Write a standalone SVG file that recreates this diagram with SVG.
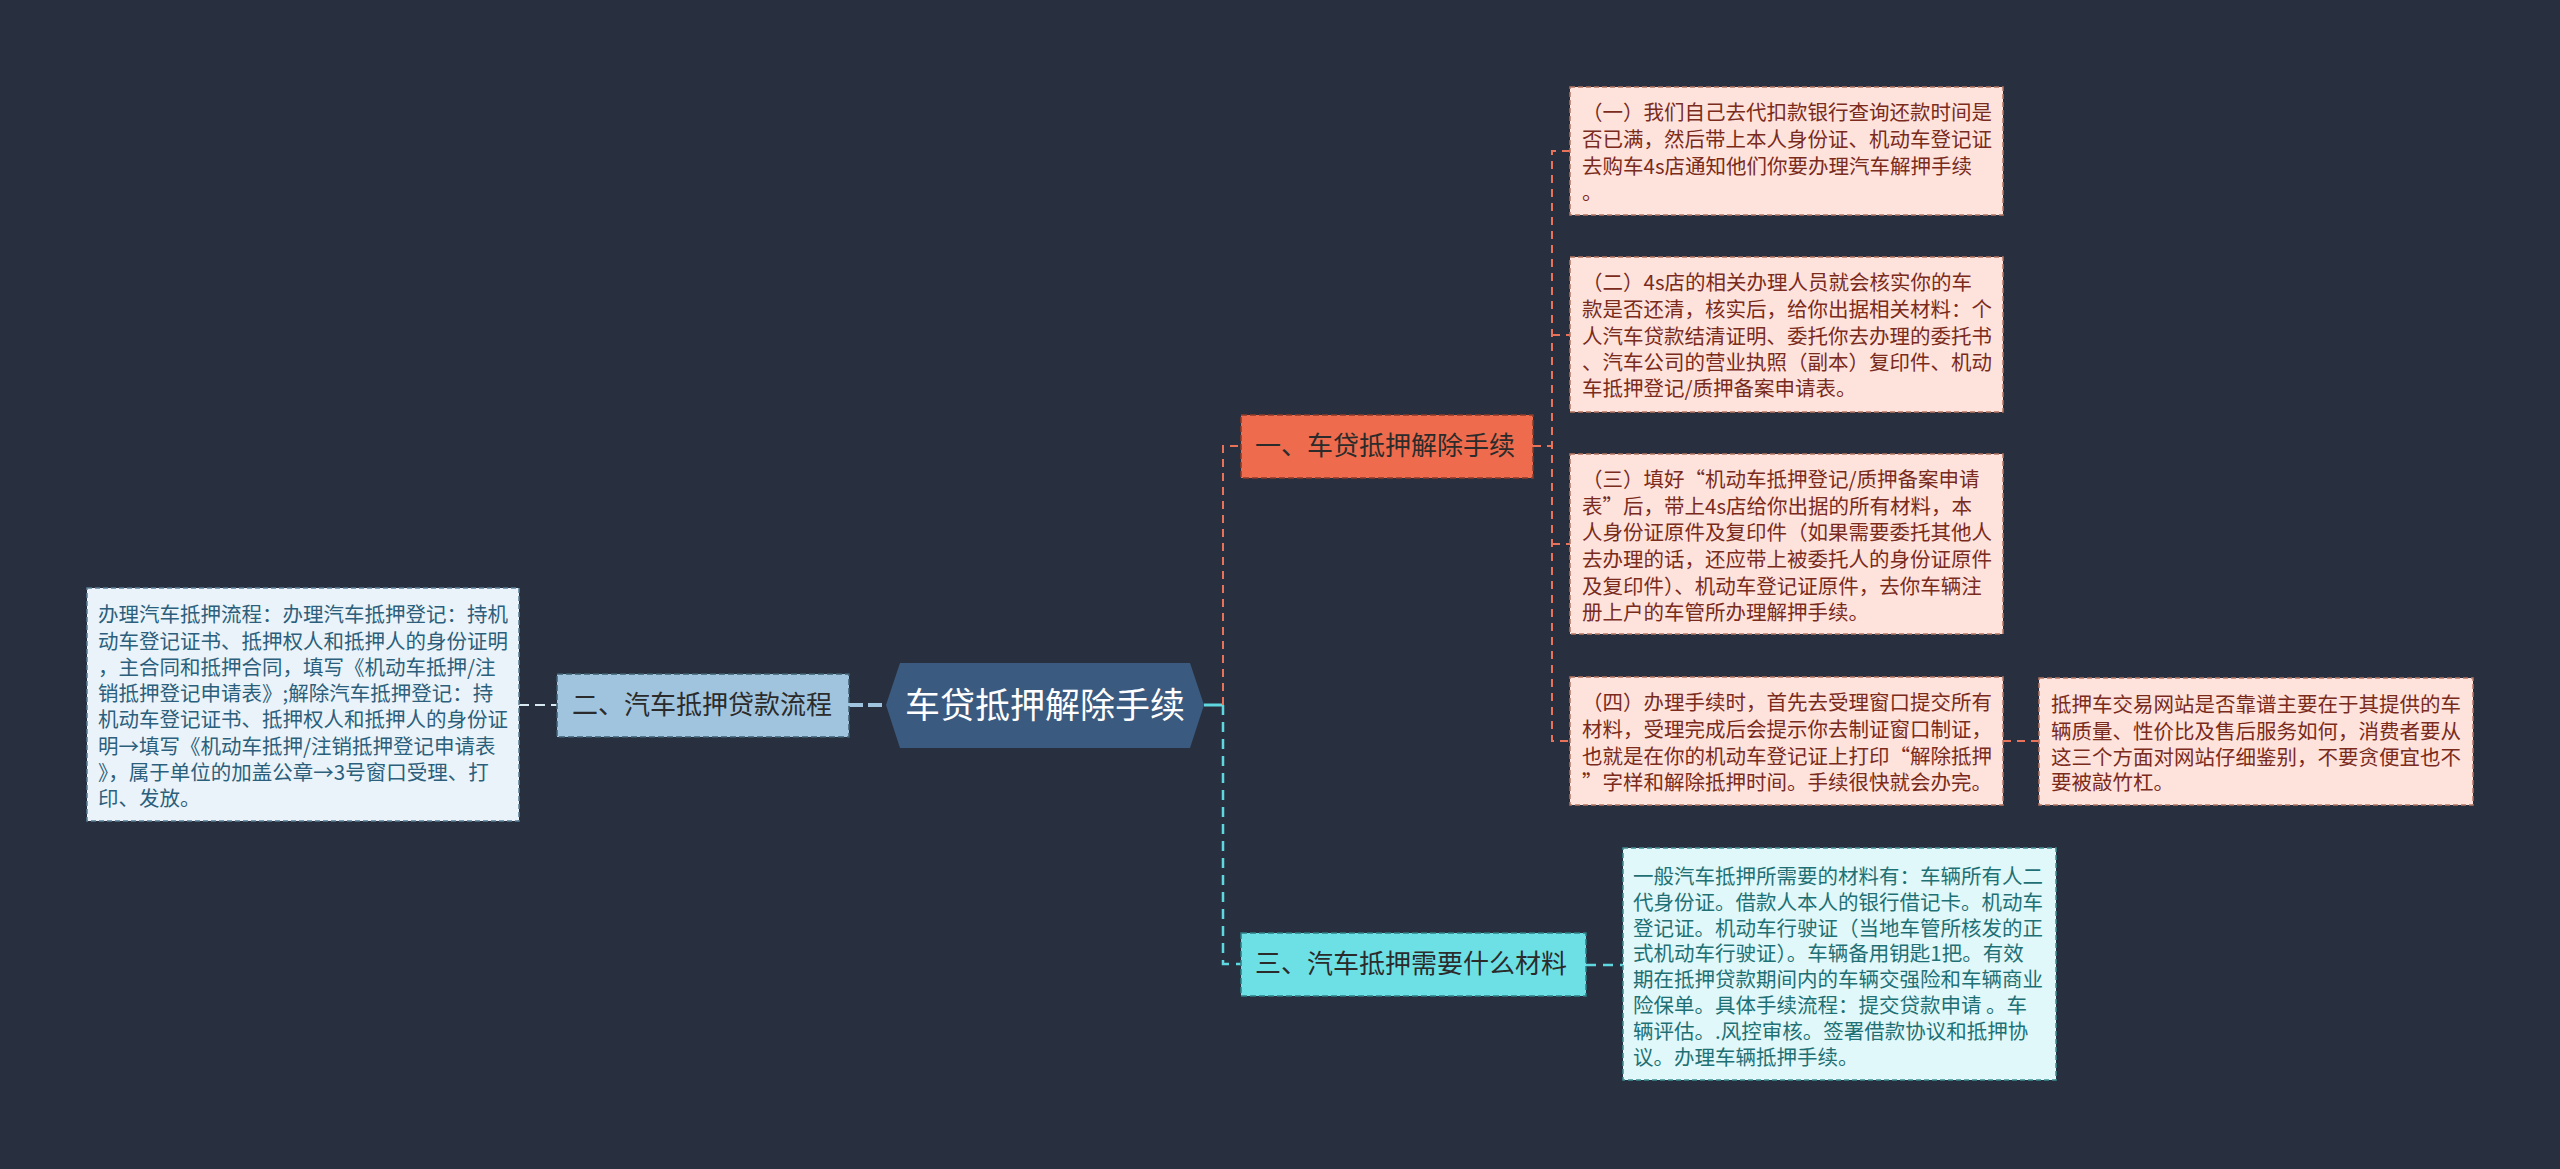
<svg xmlns="http://www.w3.org/2000/svg" width="2560" height="1169" viewBox="0 0 2560 1169">
<style>
text{font-family:"Noto Sans CJK SC","Microsoft YaHei",sans-serif;}
.pk rect{fill:#fde3dc;stroke:#b7735f;stroke-width:1.5;stroke-dasharray:5 3;}
.pk text{fill:#7a2b1c;font-size:20.5px;}
.cy rect{fill:#e0f8f9;stroke:#3c8e92;stroke-width:1.5;stroke-dasharray:5 3;}
.cy text{fill:#1f7075;font-size:20.5px;}
.lb rect{fill:#eaf3f9;stroke:#5a7f96;stroke-width:1.5;stroke-dasharray:5 3;}
.lb text{fill:#2c5f7c;font-size:20.5px;}
.t2 text{fill:#2b2b2b;font-size:26px;}
.t2 rect{stroke-width:1.5;stroke-dasharray:6 3;}
.or{fill:none;stroke:#e8735a;stroke-width:2;stroke-dasharray:8 6;}
.cyl{fill:none;stroke:#5fd7df;stroke-width:2.5;stroke-dasharray:10 7;}
.wl{fill:none;stroke:#d9e9f2;stroke-width:2;stroke-dasharray:10 6;}
</style>
<rect width="2560" height="1169" fill="#28303f"/>
<g id="connectors">
<line x1="849" y1="705" x2="886" y2="705" stroke="#a0c4de" stroke-width="4" stroke-dasharray="14 5"/>
<line x1="519" y1="705" x2="557" y2="705" class="wl"/>
<line x1="1204" y1="705" x2="1223" y2="705" stroke="#5fd7df" stroke-width="3"/>
<path class="or" d="M1223 705 V446 H1241"/>
<path class="cyl" d="M1223 705 V964 H1241"/>
<path class="or" d="M1533 446 H1552"/>
<path class="or" d="M1570 151 H1552 V741 H1570 M1552 335 H1570 M1552 544 H1570"/>
<path class="or" d="M2003 741 H2039"/>
<path class="cyl" d="M1586 965 H1623"/>
</g>
<g id="root">
<polygon points="900,663 1190,663 1204,705 1190,748 900,748 886,705" fill="#3b5a7f"/>
<text x="1045" y="718" text-anchor="middle" fill="#ffffff" font-size="35">车贷抵押解除手续</text>
</g>
<g id="n1" class="t2">
<rect x="1241" y="415" width="292" height="63" fill="#ee6b4d" stroke="#8a3a28"/>
<text x="1255" y="455">一、车贷抵押解除手续</text>
</g>
<g id="n2" class="t2">
<rect x="557" y="674" width="292" height="63" fill="#a0c4de" stroke="#3d5d72"/>
<text x="572" y="714">二、汽车抵押贷款流程</text>
</g>
<g id="n3" class="t2">
<rect x="1241" y="933" width="345" height="63" fill="#6de0e6" stroke="#2c7e84"/>
<text x="1255" y="973">三、汽车抵押需要什么材料</text>
</g>
<g id="d1" class="pk">
<rect x="1570" y="87" width="433" height="128"/>
<text x="1582" y="120">（一）我们自己去代扣款银行查询还款时间是</text>
<text x="1582" y="147">否已满，然后带上本人身份证、机动车登记证</text>
<text x="1582" y="174">去购车4s店通知他们你要办理汽车解押手续</text>
<text x="1582" y="200">。</text>
</g>
<g id="d2" class="pk">
<rect x="1570" y="257" width="433" height="155"/>
<text x="1582" y="290">（二）4s店的相关办理人员就会核实你的车</text>
<text x="1582" y="317">款是否还清，核实后，给你出据相关材料：个</text>
<text x="1582" y="344">人汽车贷款结清证明、委托你去办理的委托书</text>
<text x="1582" y="370">、汽车公司的营业执照（副本）复印件、机动</text>
<text x="1582" y="396">车抵押登记/质押备案申请表。</text>
</g>
<g id="d3" class="pk">
<rect x="1570" y="454" width="433" height="180"/>
<text x="1582" y="487">（三）填好“机动车抵押登记/质押备案申请</text>
<text x="1582" y="514">表”后，带上4s店给你出据的所有材料，本</text>
<text x="1582" y="540">人身份证原件及复印件（如果需要委托其他人</text>
<text x="1582" y="567">去办理的话，还应带上被委托人的身份证原件</text>
<text x="1582" y="594">及复印件）、机动车登记证原件，去你车辆注</text>
<text x="1582" y="620">册上户的车管所办理解押手续。</text>
</g>
<g id="d4" class="pk">
<rect x="1570" y="677" width="433" height="128"/>
<text x="1582" y="710">（四）办理手续时，首先去受理窗口提交所有</text>
<text x="1582" y="737">材料，受理完成后会提示你去制证窗口制证，</text>
<text x="1582" y="764">也就是在你的机动车登记证上打印“解除抵押</text>
<text x="1582" y="790">”字样和解除抵押时间。手续很快就会办完。</text>
</g>
<g id="d5" class="pk">
<rect x="2039" y="678" width="434" height="127"/>
<text x="2051" y="712">抵押车交易网站是否靠谱主要在于其提供的车</text>
<text x="2051" y="739">辆质量、性价比及售后服务如何，消费者要从</text>
<text x="2051" y="765">这三个方面对网站仔细鉴别，不要贪便宜也不</text>
<text x="2051" y="790">要被敲竹杠。</text>
</g>
<g id="d6" class="cy">
<rect x="1623" y="848" width="433" height="232"/>
<text x="1633" y="884">一般汽车抵押所需要的材料有：车辆所有人二</text>
<text x="1633" y="910">代身份证。借款人本人的银行借记卡。机动车</text>
<text x="1633" y="936">登记证。机动车行驶证（当地车管所核发的正</text>
<text x="1633" y="961">式机动车行驶证）。车辆备用钥匙1把。有效</text>
<text x="1633" y="987">期在抵押贷款期间内的车辆交强险和车辆商业</text>
<text x="1633" y="1013">险保单。具体手续流程：提交贷款申请 。车</text>
<text x="1633" y="1039">辆评估。.风控审核。签署借款协议和抵押协</text>
<text x="1633" y="1065">议。办理车辆抵押手续。</text>
</g>
<g id="d7" class="lb">
<rect x="87" y="588" width="432" height="233"/>
<text x="98" y="622">办理汽车抵押流程：办理汽车抵押登记：持机</text>
<text x="98" y="649">动车登记证书、抵押权人和抵押人的身份证明</text>
<text x="98" y="675">，主合同和抵押合同，填写《机动车抵押/注</text>
<text x="98" y="701">销抵押登记申请表》;解除汽车抵押登记：持</text>
<text x="98" y="727">机动车登记证书、抵押权人和抵押人的身份证</text>
<text x="98" y="754">明→填写《机动车抵押/注销抵押登记申请表</text>
<text x="98" y="780">》，属于单位的加盖公章→3号窗口受理、打</text>
<text x="98" y="806">印、发放。</text>
</g>
</svg>
